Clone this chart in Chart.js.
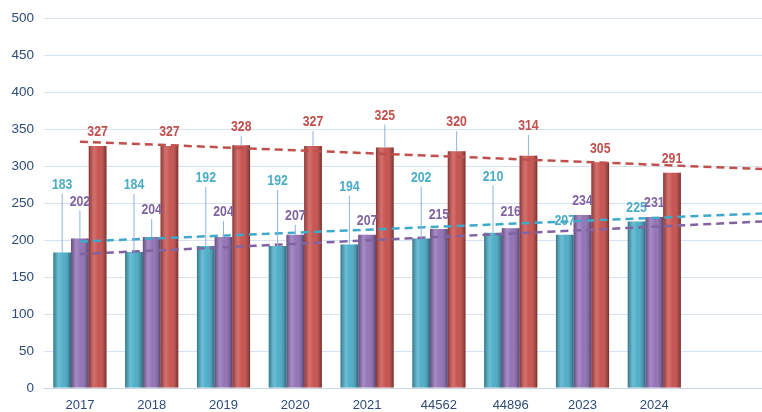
<!DOCTYPE html>
<html>
<head>
<meta charset="utf-8">
<script src="https://cdn.jsdelivr.net/npm/chart.js@4"></script>
<style>
  html, body { margin: 0; padding: 0; background: #fff; }
  #wrap { width: 762px; height: 412px; }
</style>
</head>
<body>
<div id="wrap"><canvas id="grafico"></canvas></div>
<script>
// datos
const anios = ['2017', '2018', '2019', '2020', '2021', '44562', '44896', '2023', '2024', ''];
const serieAzul = [183, 184, 192, 192, 194, 202, 210, 207, 225];
const serieMorada = [202, 204, 204, 207, 207, 215, 216, 234, 231];
const serieRoja = [327, 327, 328, 327, 325, 320, 314, 305, 291];

// lineas de tendencia (inicio en 2017, final en el borde derecho)
const tendX = [0, 9.5];
const tendAzul = [198, 236];
const tendMorada = [181, 225];
const tendRoja = [333, 296];

const AZUL = '#4bacc6', MORADO = '#8064a2', ROJO = '#c0504d';

// cuanto sube cada etiqueta sobre su barra (px)
const subida = [
    [68, 67, 68, 65, 58, 61, 56, 14, 14],
    [37, 27, 25, 19, 14, 14, 16, 14, 14],
    [14, 14, 18, 24, 32, 29, 30, 14, 14]
];

const puntos = (xs, ys) => xs.map((x, i) => ({ x: x, y: ys[i] }));
const porIndice = ys => ys.map((y, i) => ({ x: i, y: y }));

// sombreado tipo cilindro encima de cada barra
const cilindro = {
    id: 'cilindro',
    afterDatasetDraw(chart, args) {
        if (args.meta.type !== 'bar') return;
        const ctx = chart.ctx;
        args.meta.data.forEach(bar => {
            const w = bar.width, x0 = bar.x - w / 2;
            const g = ctx.createLinearGradient(x0, 0, x0 + w, 0);
            g.addColorStop(0, 'rgba(0,0,0,0.30)');
            g.addColorStop(0.3, 'rgba(255,255,255,0.22)');
            g.addColorStop(0.55, 'rgba(255,255,255,0.05)');
            g.addColorStop(1, 'rgba(0,0,0,0.40)');
            ctx.save();
            ctx.fillStyle = g;
            ctx.fillRect(x0, bar.y, w, bar.base - bar.y);
            ctx.restore();
        });
    }
};

// etiquetas con linea guia
const etiquetas = {
    id: 'etiquetas',
    afterDatasetsDraw(chart) {
        const ctx = chart.ctx;
        const colores = [AZUL, MORADO, ROJO];
        const valores = [serieAzul, serieMorada, serieRoja];
        ctx.save();
        ctx.font = 'bold 15px "Liberation Sans", sans-serif';
        ctx.textAlign = 'center';
        ctx.textBaseline = 'middle';
        [0, 1, 2].forEach(d => {
            const meta = chart.getDatasetMeta(d);
            meta.data.forEach((bar, i) => {
                const ly = bar.y - subida[d][i];
                if (subida[d][i] > 16) {
                    ctx.strokeStyle = '#8db3e2';
                    ctx.lineWidth = 1;
                    ctx.beginPath();
                    ctx.moveTo(bar.x, ly + 9);
                    ctx.lineTo(bar.x, bar.y);
                    ctx.stroke();
                }
                ctx.save();
                ctx.translate(bar.x, ly);
                ctx.scale(0.82, 1);   // letra estrecha
                ctx.fillStyle = colores[d];
                ctx.fillText(valores[d][i], 0, 0);
                ctx.restore();
            });
        });
        ctx.restore();
    }
};

const lineaTend = (data, color) => ({
    type: 'line',
    data: puntos(tendX, data),
    borderColor: color,
    borderWidth: 2.5,
    borderDash: [8, 5],
    pointRadius: 0,
    fill: false,
    order: -1
});

// un solo eje x lineal (indice de anio) para barras y tendencias
new Chart(document.getElementById('grafico'), {
    type: 'bar',
    data: {
        datasets: [
            { data: porIndice(serieAzul), backgroundColor: '#45aac6' },
            { data: porIndice(serieMorada), backgroundColor: '#8e6bb3' },
            { data: porIndice(serieRoja), backgroundColor: '#c64a46' },
            lineaTend(tendAzul, '#3fa9c9'),
            lineaTend(tendMorada, MORADO),
            lineaTend(tendRoja, ROJO)
        ]
    },
    options: {
        responsive: true,
        maintainAspectRatio: false,
        animation: false,
        layout: { padding: { top: 12, right: 0, left: 0, bottom: 0 } },
        datasets: { bar: { categoryPercentage: 0.74, barPercentage: 1 } },
        plugins: { legend: { display: false }, tooltip: { enabled: false } },
        scales: {
            x: {
                type: 'linear',
                min: -0.5,
                max: 9.5,
                offset: false,
                grid: { display: false, drawTicks: false },
                border: { color: '#c5d5ea' },
                // una marca por anio
                afterBuildTicks: s => { s.ticks = anios.map((a, i) => ({ value: i })); },
                ticks: {
                    autoSkip: false,
                    maxRotation: 0,
                    callback: v => anios[v] || '',
                    color: '#2e4a78',
                    padding: 10,
                    font: { family: 'Liberation Sans', size: 13 }
                },
                afterFit: s => { s.height = 24; }
            },
            y: {
                min: 0,
                max: 500,
                ticks: { stepSize: 50, color: '#2e4a78', padding: 10, font: { family: 'Liberation Sans', size: 13.5 } },
                grid: { color: '#d6e2f2', drawTicks: false },
                border: { display: false },
                afterFit: s => { s.width = 44; }
            }
        }
    },
    plugins: [cilindro, etiquetas]
});
</script>
</body>
</html>
